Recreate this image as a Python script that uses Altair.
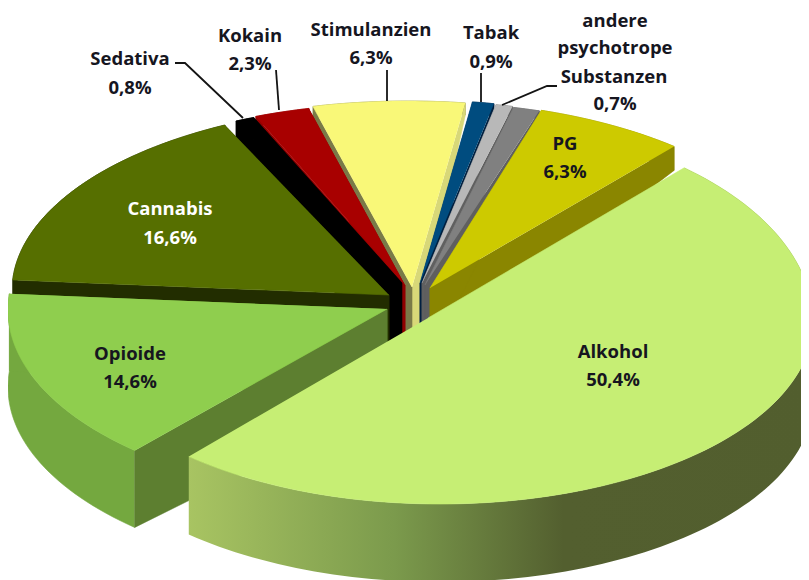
import math
import altair as alt
import pandas as pd

# --- values (share in %, clockwise from the Alkohol slice)
categories = ["Alkohol", "Opioide", "Cannabis", "Sedativa", "Kokain", "Stimulanzien",
              "Tabak", "andere psychotrope Substanzen", "ohne Angabe", "PG"]
shares = [50.4, 14.6, 16.6, 0.8, 2.3, 6.3, 0.9, 0.7, 1.1, 6.3]
first_angle = 40.9

# --- text labels: text, x, y (picture pixels)
label_text = ["Sedativa", "0,8%", "Kokain", "2,3%", "Stimulanzien", "6,3%", "Tabak", "0,9%",
              "andere", "psychotrope", "Substanzen", "0,7%", "PG", "6,3%",
              "Cannabis", "16,6%", "Opioide", "14,6%", "Alkohol", "50,4%"]
label_x = [130, 130, 250, 250, 371, 371, 491, 491, 615, 615, 614, 615, 565, 565, 170, 170, 130, 130, 613, 613]
label_y = [59, 88, 36, 64, 30, 58, 33, 62, 21, 48, 77, 104, 144, 172, 209, 238, 354, 382, 352, 380]
label_colour = ["#16161f"] * 14 + ["#ffffff"] * 2 + ["#16161f"] * 4

# --- leader lines
leaders = [
    [(175, 63), (185, 63), (243, 118)],
    [(276, 70), (279, 110)],
    [(387, 70), (387, 101)],
    [(481, 73), (481, 102)],
    [(557, 86), (547, 86), (502, 105)],
]

# --- per-slice drawing style: rim centre, radii, apex, depths, colours
style = {
    "Alkohol": dict(c=(440, 322), rx=373, back=204, front=182, apex=(428, 318), d=(78, 78), top="#c6ee74",
                    wall=None, w1=None, w2=None),
    "Opioide": dict(c=(396, 310), rx=388, back=190, front=190, apex=(387, 309), d=(77, 93), top="#8fce4e",
                    wall="#74a83f", w1="#5d7f30", w2="#74a83f"),
    "Cannabis": dict(c=(400, 291), rx=388, back=186, front=186, apex=(389, 295), d=(20, 70), top="#566f00",
                     wall="#222d00", w1="#222d00", w2="#222d00", rot=-1.5),
    "Sedativa": dict(c=(402, 281), rx=388, back=177, front=177, apex=(388, 283), d=(24, 80), top="#000000",
                     wall="#000000", w1="#000000", w2="#000000", apex2=(402, 283)),
    "Kokain": dict(c=(404, 280), rx=388, back=177, front=177, apex=(405, 285), d=(10, 80), top="#a80000",
                   wall="#900000", w1="#900000", w2="#900000"),
    "Stimulanzien": dict(c=(408, 278), rx=388, back=177, front=177, apex=(412, 287), d=(12, 70), top="#f9f878",
                         wall="#7a7a48", w1="#7a7a48", w2="#d8d878"),
    "Tabak": dict(c=(415, 277), rx=388, back=177, front=177, apex=(420, 283), d=(12, 70), top="#004c7f",
                  wall="#002040", w1="#002040", w2="#002040"),
    "andere psychotrope Substanzen": dict(c=(417, 278), rx=388, back=177, front=177, apex=(422, 283), d=(10, 70),
                                          top="#b8b8b8", wall="#606060", w1="#606060", w2="#606060"),
    "ohne Angabe": dict(c=(418, 279), rx=388, back=177, front=177, apex=(425, 285), d=(8, 70), top="#808080",
                        wall="#5f5f5f", w1="#5f5f5f", w2="#5f5f5f"),
    "PG": dict(c=(420, 287), rx=388, back=186, front=186, apex=(430, 288), d=(24, 70), top="#cdca00",
               wall="#8a8600", w1="#8a8600", w2="#8a8600"),
}
paint_order = ["Stimulanzien", "Tabak", "andere psychotrope Substanzen", "ohne Angabe", "PG",
               "Kokain", "Sedativa", "Cannabis", "Opioide", "Alkohol"]

W, H = 793, 572
X = alt.X("x:Q", axis=None, scale=alt.Scale(domain=[8, 8 + W]))
Y = alt.Y("y:Q", axis=None, scale=alt.Scale(domain=[8, 8 + H], reverse=True))


def shape(points, fill):
    df = pd.DataFrame({"x": [p[0] for p in points], "y": [p[1] for p in points],
                       "i": list(range(len(points)))})
    kw = dict(fill=fill, clip=True)
    if isinstance(fill, str):
        kw.update(stroke=fill, strokeWidth=0.6)
    else:
        kw.update(strokeWidth=0)
    return alt.Chart(df).mark_line(**kw).encode(x=X, y=Y, order="i:Q")


def rim(s, t0, t1):
    n = max(3, int((t1 - t0) / 1.5))
    out = []
    for k in range(n + 1):
        t = math.radians(t0 + (t1 - t0) * k / n)
        ry = s["back"] if math.cos(t) > 0 else s["front"]
        out.append((s["c"][0] + s["rx"] * math.sin(t), s["c"][1] - ry * math.cos(t)))
    return out


angles = {}
a = first_angle
for name, v in zip(categories, shares):
    angles[name] = (a, a + v * 3.6)
    a += v * 3.6

alk_gradient = alt.Gradient(
    gradient="linear", x1=0, x2=1, y1=0, y2=0,
    stops=[alt.GradientStop(color="#a8c462", offset=0),
           alt.GradientStop(color="#7b9a4c", offset=0.33),
           alt.GradientStop(color="#535f2f", offset=0.6),
           alt.GradientStop(color="#525e2e", offset=1)],
)

layers = []
for name in paint_order:
    s = style[name]
    rot = s.get("rot", 0)
    t0, t1 = angles[name][0] + rot, angles[name][1] + rot
    top_rim = rim(s, t0, t1)
    dr, da = s["d"]
    low_rim = [(x, y + dr) for x, y in top_rim]
    ax, ay = s["apex"]
    bx, by = s.get("apex2", s["apex"])
    # outer wall
    layers.append(shape(top_rim + low_rim[::-1], alk_gradient if s["wall"] is None else s["wall"]))
    if s["w1"]:
        # end-edge wall, then start-edge wall
        layers.append(shape([top_rim[-1], low_rim[-1], (bx, by + da), (bx, by)], s["w2"]))
        layers.append(shape([top_rim[0], low_rim[0], (ax, ay + da), (ax, ay)], s["w1"]))
    # top surface
    layers.append(shape([(ax, ay)] + top_rim + ([(bx, by)] if (bx, by) != (ax, ay) else []), s["top"]))

for seg in leaders:
    df = pd.DataFrame({"x": [p[0] for p in seg], "y": [p[1] for p in seg], "i": list(range(len(seg)))})
    layers.append(alt.Chart(df).mark_line(color="#141414", strokeWidth=1.8).encode(x=X, y=Y, order="i:Q"))

labels = pd.DataFrame({"t": label_text, "x": label_x, "y": label_y, "col": label_colour})
layers.append(
    alt.Chart(labels).mark_text(font="Open Sans", fontSize=18.5, fontWeight="bold", align="center", baseline="middle")
    .encode(x=X, y=Y, text="t:N", color=alt.Color("col:N", scale=None))
)

chart = alt.layer(*layers).properties(
    width=W, height=H, padding=0, autosize=alt.AutoSizeParams(type="none"),
    background="#ffffff",
).configure_view(stroke=None)

chart.save("out.html", embed_options={"renderer": "svg", "actions": False})
